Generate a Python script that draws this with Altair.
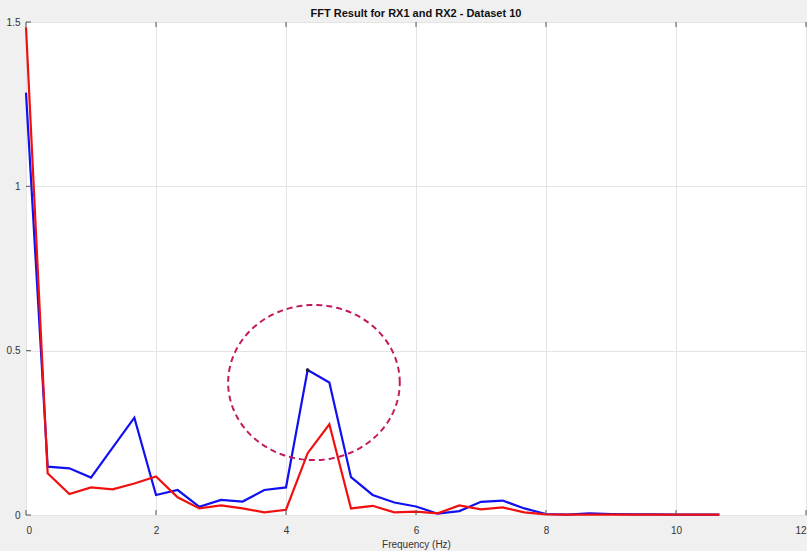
import altair as alt
import numpy as np
import pandas as pd

# Frequency bins (Hz) and FFT magnitudes for the two receivers
freq = [0.0, 0.333, 0.667, 1.0, 1.333, 1.667, 2.0, 2.333, 2.667, 3.0, 3.333,
        3.667, 4.0, 4.333, 4.667, 5.0, 5.333, 5.667, 6.0, 6.333, 6.667, 7.0,
        7.333, 7.667, 8.0, 8.333, 8.667, 9.0, 9.333, 9.667, 10.0, 10.333, 10.667]
rx1 = [1.285, 0.147, 0.142, 0.114, 0.205, 0.296, 0.061, 0.076, 0.025, 0.046,
       0.041, 0.076, 0.084, 0.441, 0.403, 0.115, 0.061, 0.038, 0.026, 0.004,
       0.012, 0.040, 0.044, 0.020, 0.003, 0.001, 0.005, 0.003, 0.002, 0.002,
       0.001, 0.001, 0.001]
rx2 = [1.484, 0.127, 0.064, 0.084, 0.078, 0.096, 0.117, 0.054, 0.020, 0.029,
       0.020, 0.008, 0.016, 0.188, 0.276, 0.020, 0.028, 0.008, 0.010, 0.005,
       0.029, 0.017, 0.023, 0.008, 0.002, 0.001, 0.001, 0.001, 0.001, 0.001,
       0.001, 0.001, 0.001]

x_ticks = [0, 2, 4, 6, 8, 10, 12]
y_ticks = [0, 0.5, 1, 1.5]

# Highlighted peak and the dashed ellipse around it
peak_freq, peak_val = 4.333, 0.441
ell_center = (4.43, 0.403)
ell_radius = (1.32, 0.236)

W, H = 780, 493
FONT = "Liberation Sans"

xs = alt.Scale(domain=[0, 12], nice=False, zero=False)
ys = alt.Scale(domain=[0, 1.5], nice=False)

df = pd.DataFrame({
    "f": freq * 2,
    "mag": rx1 + rx2,
    "series": ["RX1"] * len(freq) + ["RX2"] * len(freq),
})

lines = alt.Chart(df).mark_line(strokeWidth=2.2).encode(
    x=alt.X("f:Q", scale=xs,
            axis=alt.Axis(values=x_ticks, title="Frequency (Hz)", format="~g")),
    y=alt.Y("mag:Q", scale=ys,
            axis=alt.Axis(values=y_ticks, title=None, format="~g")),
    color=alt.Color("series:N",
                    scale=alt.Scale(domain=["RX1", "RX2"], range=["#1010f0", "#f01010"]),
                    legend=None),
)

t = np.linspace(0, 2 * np.pi, 240)
ell = pd.DataFrame({
    "f": ell_center[0] + ell_radius[0] * np.cos(t),
    "mag": ell_center[1] + ell_radius[1] * np.sin(t),
    "i": np.arange(len(t)),
})
ellipse = alt.Chart(ell).mark_line(
    color="#c2185f", strokeWidth=2, strokeDash=[6, 4]
).encode(x=alt.X("f:Q", scale=xs), y=alt.Y("mag:Q", scale=ys), order="i:Q")

dot = alt.Chart(pd.DataFrame({"f": [peak_freq], "mag": [peak_val]})).mark_point(
    filled=True, color="#222222", size=14, opacity=1
).encode(x=alt.X("f:Q", scale=xs), y=alt.Y("mag:Q", scale=ys))

# inward-pointing tick marks on the box
xt = pd.DataFrame({"f": x_ticks})
yt = pd.DataFrame({"mag": y_ticks})
tick_color = "#555555"
xt_bottom = alt.Chart(xt).mark_rule(color=tick_color).encode(
    x=alt.X("f:Q", scale=xs), y=alt.value(H), y2=alt.value(H - 5))
xt_top = alt.Chart(xt).mark_rule(color=tick_color).encode(
    x=alt.X("f:Q", scale=xs), y=alt.value(0), y2=alt.value(5))
yt_left = alt.Chart(yt).mark_rule(color=tick_color).encode(
    y=alt.Y("mag:Q", scale=ys), x=alt.value(0), x2=alt.value(5))

chart = alt.layer(lines, ellipse, dot, xt_bottom, xt_top, yt_left).properties(
    width=W, height=H,
    autosize=alt.AutoSizeParams(type="none"),
    padding={"left": 26, "top": 22, "right": 1, "bottom": 36},
    title=alt.Title("FFT Result for RX1 and RX2 - Dataset 10", fontSize=11,
                    fontWeight="bold", font=FONT, color="#111111",
                    anchor="middle", offset=4, dy=6),
).configure(background="#f0f0f0").configure_view(
    fill="white", stroke="#555555", strokeWidth=1
).configure_axis(
    grid=True, gridColor="#e4e4e4", gridWidth=1, domain=False,
    tickSize=0, labelFont=FONT, labelFontSize=10, labelColor="#333333",
    titleFont=FONT, titleFontSize=10, titleColor="#333333", titleFontWeight="normal",
).configure_axisX(labelPadding=10, titlePadding=4).configure_axisY(labelPadding=6)

chart.save("out.html", embed_options={"renderer": "svg", "actions": False})
